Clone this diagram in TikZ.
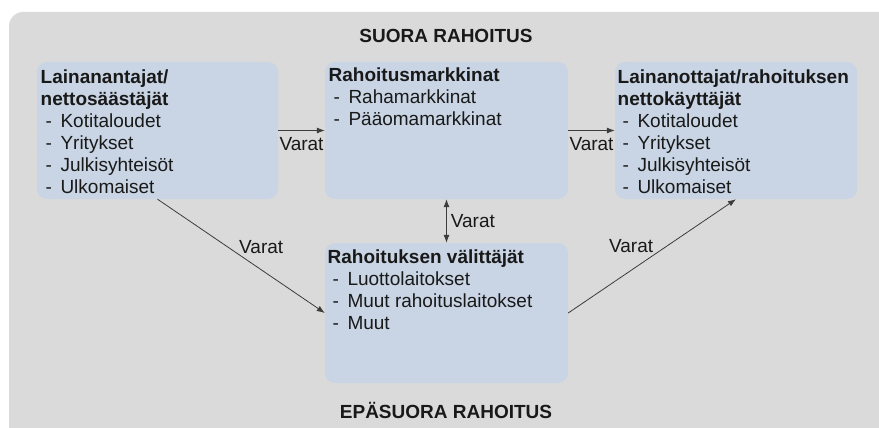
\documentclass[tikz,border=0pt]{standalone}
\usepackage{fontspec}
\setmainfont{Liberation Sans}
\usepackage{xcolor}
\usetikzlibrary{arrows.meta}
\definecolor{laatikko}{RGB}{201,213,228}
\definecolor{tausta}{RGB}{218,218,218}
\definecolor{viiva}{RGB}{60,60,60}
\newcommand{\kohta}[1]{\hspace*{5pt}-\hspace{8.5pt}#1}
\begin{document}
\begin{tikzpicture}[x=1pt,y=1pt]
\tikzstyle{every node}+=[inner sep=0pt,font=\fontsize{19}{22}\selectfont,text=black!90]
\tikzstyle{laatikko}=[rectangle,rounded corners=10pt,fill=laatikko,minimum height=137pt]
\tikzstyle{teksti}=[anchor=north west,align=left]
\tikzstyle{otsikko}=[anchor=base,font=\fontsize{19}{22}\selectfont\bfseries]
\tikzstyle{nuoli}=[draw=viiva,line width=0.8pt,-{Latex[length=8pt,width=6pt]}]
\useasboundingbox (0,0) rectangle (879,-428);
\shade [rounded corners=14pt,top color=tausta,middle color=white!97!black,bottom color=tausta] (9,-12) rectangle (900,-450);
\node [laatikko,minimum width=241pt] (lend) at (157.5,-130.5) {};
\node [laatikko,minimum width=243pt] (markkinat) at (446.5,-130.5) {};
\node [laatikko,minimum width=242pt] (lott) at (736,-130.5) {};
\node [laatikko,minimum width=243pt,minimum height=140pt] (valit) at (446.5,-313) {};
\node [teksti] (lendt) at (40.5,-70) {\textbf{Lainanantajat/}\\\textbf{nettosäästäjät}\\\kohta{Kotitaloudet}\\\kohta{Yritykset}\\\kohta{Julkisyhteisöt}\\\kohta{Ulkomaiset}};
\node [teksti] (markkinatt) at (328.5,-68) {\textbf{Rahoitusmarkkinat}\\\kohta{Rahamarkkinat}\\\kohta{Pääomamarkkinat}};
\node [teksti] (lottt) at (617.5,-70) {\textbf{Lainanottajat/rahoituksen}\\\textbf{nettokäyttäjät}\\\kohta{Kotitaloudet}\\\kohta{Yritykset}\\\kohta{Julkisyhteisöt}\\\kohta{Ulkomaiset}};
\node [teksti] (valitt) at (327.5,-250) {\textbf{Rahoituksen välittäjät}\\\kohta{Luottolaitokset}\\\kohta{Muut rahoituslaitokset}\\\kohta{Muut}};
\node [otsikko] (suora) at (446,-43) {SUORA RAHOITUS};
\node [otsikko] (epasuora) at (446,-418) {EPÄSUORA RAHOITUS};
\draw [nuoli] (lend) -- (markkinat) node [midway,below=7pt] {Varat};
\draw [nuoli] (markkinat) -- (lott) node [midway,below=7pt] {Varat};
\draw [nuoli,{Latex[length=8pt,width=6pt]}-{Latex[length=8pt,width=6pt]}] (markkinat) -- (valit) node [midway,right=4pt] {Varat};
\draw [nuoli] (lend.south) -- (valit.west) node [pos=0.62,above=16pt] {Varat};
\draw [nuoli] (valit.east) -- (lott.south) node [pos=0.375,above=17pt] {Varat};
\end{tikzpicture}
\end{document}
